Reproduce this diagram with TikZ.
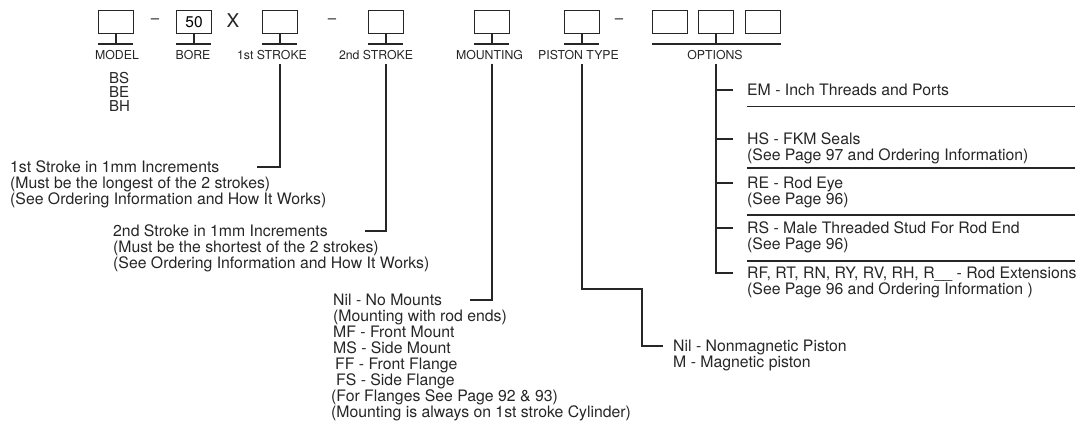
\documentclass[tikz,border=0pt]{standalone}
\usepackage{fontspec}
\setmainfont{TeX Gyre Heros}
\begin{document}
\begin{tikzpicture}[x=1pt,y=-1pt,
  ink/.style={draw=black!85,line width=1.1pt},
  cbox/.style={draw=black!85,line width=1pt,minimum width=35pt,minimum height=23pt,inner sep=0pt,anchor=north west},
  lbl/.style={text=black!85,font=\fontsize{12.3}{14}\selectfont,inner sep=0pt},
  txt/.style={text=black!85,font=\fontsize{15.8}{16}\selectfont,inner sep=0pt,anchor=base west,align=left},
  sym/.style={text=black!85,inner sep=0pt}]
\useasboundingbox (0,0) rectangle (1084,429);
% boxes
\node[cbox] (model) at (98,10) {};
\node[cbox] (bore) at (176,10) {\fontsize{15.5}{16}\selectfont 50};
\node[cbox] (s1) at (262,10) {};
\node[cbox] (s2) at (368,10) {};
\node[cbox] (mount) at (474,10) {};
\node[cbox] (piston) at (564,10) {};
\node[cbox] (o1) at (652,10) {};
\node[cbox] (o2) at (698,10) {};
\node[cbox] (o3) at (745,10) {};
% separators between boxes
\node[sym,font=\fontsize{15}{16}\selectfont] (d1) at (155,21) {–};
\node[sym,font=\fontsize{19}{20}\selectfont] (x1) at (233,21) {X};
\node[sym,font=\fontsize{15}{16}\selectfont] (d2) at (332,21) {–};
\node[sym,font=\fontsize{15}{16}\selectfont] (d3) at (619,21) {–};
% bars
\foreach \b in {model,bore,s1,s2,mount,piston}{
  \draw[ink] (\b.south) -- ++(0,10);
  \draw[ink] (\b.south west) ++(0,10) -- ++(35,0);
}
\draw[ink] (o2.south) -- ++(0,10);
\draw[ink] (o1.south west) ++(0,10) -- ([yshift=-10pt]o3.south east);
% labels
\node[lbl] (lmodel) at (117,55) {MODEL};
\node[lbl] (lbore) at (193,55) {BORE};
\node[lbl] (ls1) at (272,55) {1st STROKE};
\node[lbl] (ls2) at (376,55) {2nd STROKE};
\node[lbl] (lmount) at (489.5,55) {MOUNTING};
\node[lbl] (lpiston) at (578.5,55) {PISTON TYPE};
\node[lbl] (lopt) at (715,55) {OPTIONS};
% texts (base anchor = baseline of the last line)
\node[txt,font=\fontsize{15}{14}\selectfont] (tmodel) at (109,111.5) {BS\\BE\\BH};
\node[txt] (t1) at (10,204.7) {1st Stroke in 1mm Increments\\(Must be the longest of the 2 strokes)\\(See Ordering Information and How It Works)};
\node[txt] (t2) at (113,268.7) {2nd Stroke in 1mm Increments\\(Must be the shortest of the 2 strokes)\\(See Ordering Information and How It Works)};
\node[txt] (tm) at (333,417.7) {Nil - No Mounts\\(Mounting with rod ends)\\MF - Front Mount\\MS - Side Mount\\\hspace*{2pt}FF - Front Flange\\\hspace*{3pt}FS - Side Flange\\\hspace*{-2pt}(For Flanges See Page 92 \& 93)\\\hspace*{-2pt}(Mounting is always on 1st stroke Cylinder)};
\node[txt] (tp) at (673,367.7) {Nil - Nonmagnetic Piston\\M - Magnetic piston};
\node[txt] (tem) at (747,95.7) {EM - Inch Threads and Ports};
\node[txt] (ths) at (747,160.7) {HS - FKM Seals\\(See Page 97 and Ordering Information)};
\node[txt] (tre) at (747,204.2) {RE - Rod Eye\\(See Page 96)};
\node[txt] (trs) at (747,249.7) {RS - Male Threaded Stud For Rod End\\(See Page 96)};
\node[txt] (trf) at (747,294.7) {RF, RT, RN, RY, RV, RH, R\_\_ - Rod Extensions\\(See Page 96 and Ordering Information )};
% connector end points
\coordinate (e1) at (257,167);
\coordinate (e2) at (365,231);
\coordinate (em) at (470,300);
\coordinate (ep1) at (642,289);
\coordinate (ep2) at (663,346);
\coordinate (eo) at (733,273);
% connectors
\draw[ink] (s1.south |- 0,64) |- (e1);
\draw[ink] (s2.south |- 0,64) |- (e2);
\draw[ink] (mount.south |- 0,64) |- (em);
\draw[ink] (piston.south |- 0,64) |- (ep1) |- (ep2);
\draw[ink] (o2.south |- 0,64) |- (eo);
\foreach \y in {90,139,183,228}{
  \draw[ink] (o2.south |- 0,\y) -- (733,\y);
}
\foreach \y in {106.5,168,215,261}{
  \draw[ink] (747,\y) -- (1075,\y);
}
\end{tikzpicture}
\end{document}
